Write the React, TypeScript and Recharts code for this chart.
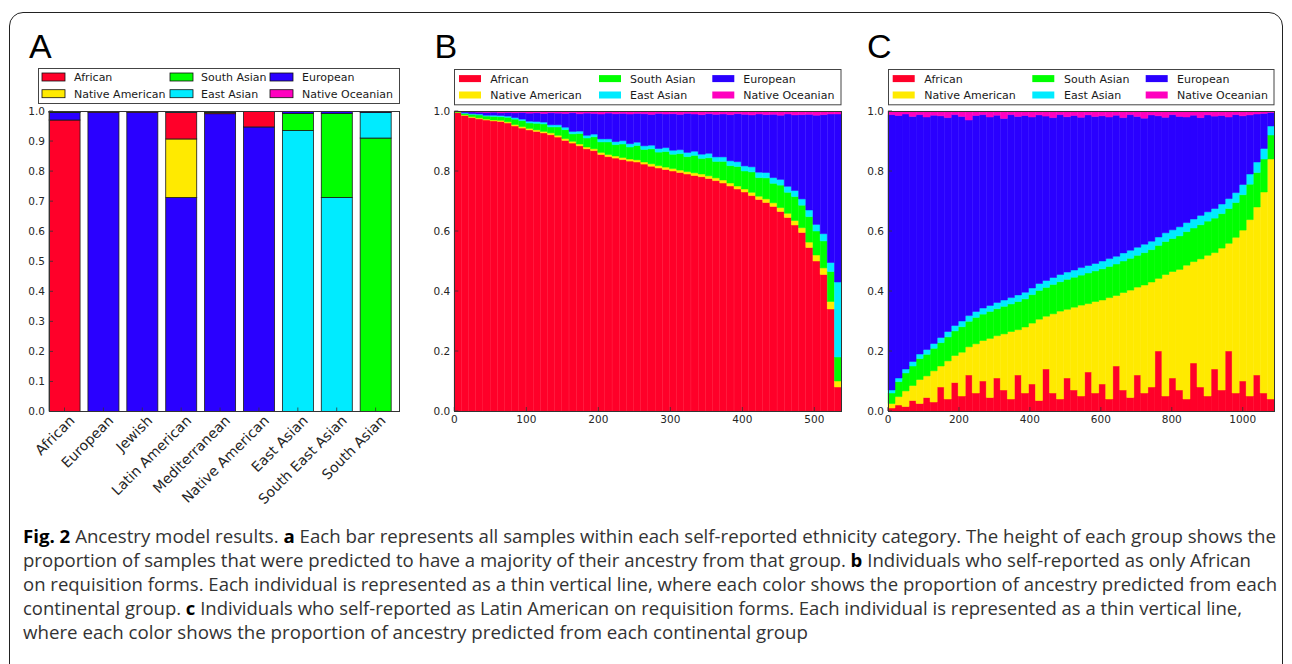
import React from 'react';
import { BarChart, Bar, XAxis, YAxis } from 'recharts';

// ---------- shared ancestry groups ----------
const ANC_NAMES = ['African', 'Native American', 'South Asian', 'East Asian', 'European', 'Native Oceanian'];
const ANC_KEYS = ['afr', 'nam', 'sas', 'eas', 'eur', 'oce'];
const ANC_COLORS = ['#ff0029', '#ffea00', '#00ff00', '#00ebff', '#2a00ff', '#ff00bf'];

// ---------- Panel A: self-reported category composition ----------
const aCategories = ['African', 'European', 'Jewish', 'Latin American', 'Mediterranean', 'Native American', 'East Asian', 'South East Asian', 'South Asian'];
const aAfr = [0.970, 0.002, 0.002, 0.088, 0.004, 0.052, 0.000, 0.000, 0.000];
const aNam = [0.001, 0.001, 0.000, 0.195, 0.000, 0.001, 0.000, 0.000, 0.000];
const aSas = [0.002, 0.001, 0.002, 0.002, 0.004, 0.000, 0.057, 0.280, 0.910];
const aEas = [0.001, 0.000, 0.000, 0.003, 0.001, 0.000, 0.935, 0.712, 0.085];
const aEur = [0.025, 0.996, 0.996, 0.712, 0.991, 0.947, 0.008, 0.008, 0.005];
const aOce = [0.001, 0.000, 0.000, 0.000, 0.000, 0.000, 0.000, 0.000, 0.000];
const aTicksY = [0, 0.1, 0.2, 0.3, 0.4, 0.5, 0.6, 0.7, 0.8, 0.9, 1.0];

// ---------- Panel B: self-reported African individuals (groups of ~10) ----------
const bStart = [0, 10, 20, 30, 40, 50, 60, 70, 80, 90, 100, 110, 120, 130, 140, 150, 160, 170, 180, 190,
  200, 210, 220, 230, 240, 250, 260, 270, 280, 290, 300, 310, 320, 330, 340, 350, 360, 370, 380, 390,
  400, 410, 420, 430, 440, 450, 460, 470, 480, 490, 500, 510, 520, 530];
const bAfr = [0.995, 0.985, 0.978, 0.974, 0.970, 0.967, 0.965, 0.960, 0.950, 0.943,
  0.937, 0.932, 0.927, 0.921, 0.913, 0.902, 0.893, 0.884, 0.874, 0.868,
  0.855, 0.848, 0.843, 0.838, 0.833, 0.830, 0.823, 0.816, 0.810, 0.805,
  0.800, 0.795, 0.790, 0.785, 0.781, 0.775, 0.768, 0.760, 0.750, 0.740,
  0.730, 0.718, 0.705, 0.695, 0.682, 0.665, 0.645, 0.620, 0.595, 0.545,
  0.500, 0.455, 0.340, 0.080];
const bNam = [0.001, 0.002, 0.003, 0.003, 0.003, 0.003, 0.004, 0.004, 0.005, 0.005,
  0.005, 0.005, 0.005, 0.006, 0.006, 0.006, 0.006, 0.006, 0.006, 0.006,
  0.007, 0.007, 0.007, 0.007, 0.007, 0.007, 0.007, 0.008, 0.008, 0.008,
  0.008, 0.008, 0.008, 0.009, 0.009, 0.009, 0.009, 0.010, 0.010, 0.010,
  0.010, 0.011, 0.011, 0.012, 0.012, 0.013, 0.014, 0.015, 0.016, 0.018,
  0.020, 0.022, 0.025, 0.020];
const bSas = [0.002, 0.005, 0.008, 0.010, 0.010, 0.012, 0.012, 0.015, 0.018, 0.020,
  0.018, 0.022, 0.025, 0.020, 0.028, 0.030, 0.025, 0.035, 0.030, 0.040,
  0.035, 0.042, 0.038, 0.045, 0.040, 0.048, 0.042, 0.050, 0.045, 0.052,
  0.048, 0.055, 0.050, 0.058, 0.052, 0.060, 0.055, 0.062, 0.058, 0.065,
  0.060, 0.068, 0.062, 0.070, 0.065, 0.075, 0.070, 0.080, 0.075, 0.085,
  0.080, 0.090, 0.100, 0.080];
const bEas = [0.001, 0.002, 0.002, 0.003, 0.003, 0.004, 0.004, 0.004, 0.005, 0.005,
  0.006, 0.006, 0.006, 0.007, 0.007, 0.008, 0.008, 0.008, 0.009, 0.009,
  0.010, 0.010, 0.010, 0.011, 0.011, 0.011, 0.012, 0.012, 0.012, 0.013,
  0.013, 0.013, 0.014, 0.014, 0.014, 0.015, 0.015, 0.015, 0.016, 0.016,
  0.017, 0.017, 0.018, 0.018, 0.019, 0.019, 0.020, 0.020, 0.021, 0.022,
  0.022, 0.024, 0.030, 0.250];
const bEur = [0.001, 0.004, 0.006, 0.006, 0.009, 0.010, 0.009, 0.012, 0.016, 0.022,
  0.027, 0.029, 0.029, 0.040, 0.039, 0.046, 0.062, 0.058, 0.074, 0.069,
  0.083, 0.086, 0.093, 0.091, 0.099, 0.096, 0.107, 0.103, 0.117, 0.112,
  0.122, 0.118, 0.130, 0.124, 0.132, 0.132, 0.142, 0.143, 0.154, 0.160,
  0.172, 0.173, 0.194, 0.193, 0.211, 0.214, 0.241, 0.252, 0.281, 0.319,
  0.364, 0.397, 0.495, 0.560];
const bOce = [0.000, 0.002, 0.003, 0.004, 0.005, 0.004, 0.006, 0.005, 0.006, 0.005,
  0.007, 0.006, 0.008, 0.006, 0.007, 0.008, 0.006, 0.009, 0.007, 0.008,
  0.010, 0.007, 0.009, 0.008, 0.010, 0.008, 0.009, 0.011, 0.008, 0.010,
  0.009, 0.011, 0.008, 0.010, 0.012, 0.009, 0.011, 0.010, 0.012, 0.009,
  0.011, 0.013, 0.010, 0.012, 0.011, 0.014, 0.010, 0.013, 0.012, 0.011,
  0.014, 0.012, 0.010, 0.010];
const bTicksX = [0, 100, 200, 300, 400, 500];
const bMaxX = 538;

// ---------- Panel C: self-reported Latin American individuals (groups of ~20) ----------
const cStart = [0, 20, 40, 60, 80, 100, 120, 140, 160, 180, 200, 220, 240, 260, 280, 300, 320, 340, 360, 380,
  400, 420, 440, 460, 480, 500, 520, 540, 560, 580, 600, 620, 640, 660, 680, 700, 720, 740, 760, 780,
  800, 820, 840, 860, 880, 900, 920, 940, 960, 980, 1000, 1020, 1040, 1060, 1080];
const cAfr = [0.010, 0.020, 0.015, 0.035, 0.025, 0.045, 0.030, 0.080, 0.040, 0.095,
  0.050, 0.120, 0.060, 0.100, 0.045, 0.110, 0.070, 0.040, 0.120, 0.060,
  0.090, 0.035, 0.140, 0.060, 0.040, 0.110, 0.070, 0.050, 0.130, 0.060,
  0.090, 0.040, 0.150, 0.070, 0.045, 0.120, 0.060, 0.080, 0.200, 0.050,
  0.110, 0.070, 0.040, 0.160, 0.080, 0.050, 0.140, 0.070, 0.200, 0.060,
  0.100, 0.050, 0.120, 0.060, 0.040];
const cNam = [0.015, 0.028, 0.052, 0.050, 0.080, 0.072, 0.104, 0.070, 0.127, 0.090,
  0.146, 0.094, 0.164, 0.135, 0.197, 0.141, 0.187, 0.225, 0.151, 0.220,
  0.203, 0.271, 0.176, 0.264, 0.293, 0.229, 0.276, 0.303, 0.228, 0.305,
  0.280, 0.338, 0.235, 0.325, 0.358, 0.293, 0.360, 0.350, 0.242, 0.405,
  0.355, 0.402, 0.446, 0.338, 0.427, 0.469, 0.388, 0.473, 0.359, 0.519,
  0.503, 0.588, 0.560, 0.670, 0.800];
const cSas = [0.035, 0.050, 0.060, 0.065, 0.070, 0.072, 0.075, 0.078, 0.080, 0.082,
  0.085, 0.085, 0.088, 0.088, 0.090, 0.090, 0.092, 0.092, 0.094, 0.094,
  0.095, 0.096, 0.096, 0.098, 0.098, 0.100, 0.100, 0.100, 0.102, 0.102,
  0.104, 0.104, 0.105, 0.105, 0.106, 0.106, 0.108, 0.108, 0.110, 0.110,
  0.110, 0.112, 0.112, 0.112, 0.114, 0.114, 0.115, 0.115, 0.116, 0.116,
  0.118, 0.118, 0.115, 0.110, 0.080];
const cEas = [0.010, 0.012, 0.013, 0.015, 0.015, 0.016, 0.016, 0.017, 0.018, 0.018,
  0.019, 0.019, 0.020, 0.020, 0.020, 0.021, 0.021, 0.021, 0.022, 0.022,
  0.022, 0.023, 0.023, 0.023, 0.024, 0.024, 0.024, 0.025, 0.025, 0.025,
  0.026, 0.026, 0.026, 0.027, 0.027, 0.027, 0.028, 0.028, 0.028, 0.029,
  0.029, 0.030, 0.030, 0.030, 0.031, 0.031, 0.032, 0.032, 0.033, 0.033,
  0.034, 0.034, 0.035, 0.035, 0.030];
const cEur = [0.918, 0.875, 0.850, 0.817, 0.798, 0.775, 0.761, 0.739, 0.713, 0.703,
  0.682, 0.652, 0.653, 0.645, 0.628, 0.624, 0.605, 0.610, 0.595, 0.589,
  0.570, 0.562, 0.548, 0.533, 0.533, 0.518, 0.515, 0.501, 0.502, 0.490,
  0.484, 0.472, 0.470, 0.451, 0.452, 0.436, 0.420, 0.421, 0.404, 0.385,
  0.384, 0.368, 0.352, 0.346, 0.326, 0.323, 0.308, 0.295, 0.272, 0.260,
  0.229, 0.197, 0.160, 0.117, 0.045];
const cOce = [0.012, 0.015, 0.010, 0.018, 0.012, 0.020, 0.014, 0.016, 0.022, 0.012,
  0.018, 0.030, 0.015, 0.012, 0.020, 0.014, 0.025, 0.012, 0.018, 0.015,
  0.020, 0.013, 0.017, 0.022, 0.012, 0.019, 0.015, 0.021, 0.013, 0.018,
  0.016, 0.020, 0.014, 0.022, 0.012, 0.018, 0.024, 0.013, 0.016, 0.021,
  0.012, 0.018, 0.020, 0.014, 0.022, 0.013, 0.017, 0.015, 0.020, 0.012,
  0.016, 0.013, 0.010, 0.008, 0.005];
const cTicksX = [0, 200, 400, 600, 800, 1000];
const cMaxX = 1089;
const bcTicksY = [0, 0.2, 0.4, 0.6, 0.8, 1.0];

// ---------- caption ----------
const captionLines = [
  [['b', 'Fig. 2'], ['n', ' Ancestry model results. '], ['b', 'a'], ['n', ' Each bar represents all samples within each self-reported ethnicity category. The height of each group shows the']],
  [['n', 'proportion of samples that were predicted to have a majority of their ancestry from that group. '], ['b', 'b'], ['n', ' Individuals who self-reported as only African']],
  [['n', 'on requisition forms. Each individual is represented as a thin vertical line, where each color shows the proportion of ancestry predicted from each']],
  [['n', 'continental group. '], ['b', 'c'], ['n', ' Individuals who self-reported as Latin American on requisition forms. Each individual is represented as a thin vertical line,']],
  [['n', 'where each color shows the proportion of ancestry predicted from each continental group']],
];
const captionEnds = [1276, 1251, 1277, 1242, 808];

// ---------- table building ----------
const aSeries = [aAfr, aNam, aSas, aEas, aEur, aOce];
const aRows = aCategories.map((name, i) => {
  const segs = aSeries
    .map((s, k) => ({ v: s[i], c: ANC_COLORS[k] }))
    .filter((s) => s.v > 0)
    .sort((p, q) => q.v - p.v);
  const row: any = { name };
  segs.forEach((s, j) => {
    row['v' + j] = s.v;
    row['c' + j] = s.c;
  });
  return row;
});
const bSeries = [bAfr, bNam, bSas, bEas, bEur, bOce];
const bRows = bStart.map((start, i) => {
  const row: any = { start };
  ANC_KEYS.forEach((k, j) => (row[k] = bSeries[j][i]));
  return row;
});
const cSeries = [cAfr, cNam, cSas, cEas, cEur, cOce];
const cRows = cStart.map((start, i) => {
  const row: any = { start };
  ANC_KEYS.forEach((k, j) => (row[k] = cSeries[j][i]));
  return row;
});

// ---------- styling ----------
const FONT = '"DejaVu Sans", Verdana, sans-serif';
const TICK_TEXT = '#262626';
const SPINE = '#333';
const A_SHIFT = 3.94; // matplotlib edge-aligned bars

function YTickLeft(props: any) {
  const { x, y, payload } = props;
  return (
    <g>
      <line x1={x} x2={x + 4} y1={y} y2={y} stroke={SPINE} strokeWidth={0.8} />
      <text x={x - 4} y={y} dy="0.36em" textAnchor="end" fontSize={10.5} fontFamily={FONT} fill={TICK_TEXT}>
        {Number(payload.value).toFixed(1)}
      </text>
    </g>
  );
}
function YTickRight(props: any) {
  const { x, y } = props;
  return <line x1={x - 4} x2={x} y1={y} y2={y} stroke={SPINE} strokeWidth={0.8} />;
}
function XTickNum(props: any) {
  const { x, y, payload } = props;
  return (
    <g>
      <line x1={x} x2={x} y1={y} y2={y - 4} stroke={SPINE} strokeWidth={0.8} />
      <text x={x} y={y + 12} textAnchor="middle" fontSize={10.5} fontFamily={FONT} fill={TICK_TEXT}>
        {payload.value}
      </text>
    </g>
  );
}
function ACatTick(props: any) {
  const { x, y, payload } = props;
  const cx = x - A_SHIFT;
  return (
    <g>
      <line x1={cx} x2={cx} y1={y} y2={y - 4} stroke={SPINE} strokeWidth={0.8} />
      <text
        transform={`translate(${cx + 11},${y + 10}) rotate(-45)`}
        textAnchor="end"
        fontSize={14}
        fontFamily={FONT}
        fill={TICK_TEXT}
      >
        {payload.value}
      </text>
    </g>
  );
}
const aShape = (j: number) => (props: any) => {
  const { x, y, width, height, payload } = props;
  if (height == null || Math.abs(height) < 0.001 || !payload || payload['v' + j] == null) return <g />;
  const h = Math.abs(height);
  const top = height < 0 ? y + height : y;
  return (
    <rect x={x - A_SHIFT} y={top} width={width} height={h} fill={payload['c' + j]} stroke="#1a1a1a" strokeWidth={0.8} />
  );
};

function Frame({ left, top, width, height }: any) {
  return (
    <div
      style={{
        position: 'absolute',
        left: left - 0.5,
        top: top - 0.5,
        width: width + 1,
        height: height + 1,
        border: `1px solid ${SPINE}`,
        boxSizing: 'border-box',
        pointerEvents: 'none',
      }}
    />
  );
}

function LegendBox({ left, top, width, height, swX, txtX, rowY, swW, swH, swStroke }: any) {
  return (
    <svg style={{ position: 'absolute', left, top, overflow: 'visible' }} width={width} height={height}>
      <rect x={0.5} y={0.5} width={width - 1} height={height - 1} fill="#fff" stroke="#444" strokeWidth={1} />
      {ANC_NAMES.map((name, i) => {
        const col = Math.floor(i / 2);
        const row = i % 2;
        return (
          <g key={name}>
            <rect
              x={swX[col]}
              y={rowY[row] - swH / 2}
              width={swW}
              height={swH}
              fill={ANC_COLORS[i]}
              stroke={swStroke ? '#111' : 'none'}
              strokeWidth={0.8}
            />
            <text x={txtX[col]} y={rowY[row]} dy="0.36em" fontSize={11} fontFamily={FONT} fill="#1a1a1a">
              {name}
            </text>
          </g>
        );
      })}
    </svg>
  );
}

function StackedPanel({ left, width, rows, maxX, ticksX, marginLeft, marginRight }: any) {
  return (
    <div style={{ position: 'absolute', left, top: 0 }}>
      <BarChart
        width={width}
        height={450}
        data={rows}
        margin={{ top: 111, right: marginRight, left: marginLeft, bottom: 14 }}
        barCategoryGap={0}
        barGap={0}
      >
        <XAxis xAxisId="cat" dataKey="start" type="category" hide height={0} />
        <XAxis
          xAxisId="num"
          dataKey="start"
          type="number"
          domain={[0, maxX]}
          ticks={ticksX}
          allowDataOverflow
          height={25}
          tick={(p: any) => <XTickNum {...p} />}
          tickLine={false}
          axisLine={false}
          tickSize={0}
          tickMargin={0}
        />
        <YAxis
          type="number"
          domain={[0, 1]}
          ticks={bcTicksY}
          allowDataOverflow
          width={30}
          tick={(p: any) => <YTickLeft {...p} />}
          tickLine={false}
          axisLine={false}
          tickSize={0}
          tickMargin={0}
        />
        <YAxis
          yAxisId="r"
          orientation="right"
          type="number"
          domain={[0, 1]}
          ticks={bcTicksY}
          width={0}
          tick={(p: any) => <YTickRight {...p} />}
          tickLine={false}
          axisLine={false}
          tickSize={0}
          tickMargin={0}
        />
        {ANC_KEYS.map((k, j) => (
          <Bar
            key={k}
            xAxisId="cat"
            dataKey={k}
            stackId="s"
            fill={ANC_COLORS[j]}
            stroke={ANC_COLORS[j]}
            strokeWidth={0.5}
            isAnimationActive={false}
          />
        ))}
      </BarChart>
    </div>
  );
}

export default function App() {
  return (
    <div
      style={{
        position: 'absolute',
        left: 0,
        top: 0,
        width: 1292,
        height: 664,
        background: '#fff',
        overflow: 'hidden',
      }}
    >
      {/* figure border */}
      <div
        style={{
          position: 'absolute',
          left: 9,
          top: 12,
          width: 1274,
          height: 720,
          border: '1.5px solid #222',
          borderRadius: 14,
          boxSizing: 'border-box',
        }}
      />

      {/* Panel A */}
      <div style={{ position: 'absolute', left: 0, top: 0 }}>
        <BarChart
          width={420}
          height={520}
          data={aRows}
          margin={{ top: 111, right: 21, left: 9, bottom: 8.5 }}
          barSize={31}
        >
          <XAxis
            dataKey="name"
            type="category"
            height={100}
            interval={0}
            tick={(p: any) => <ACatTick {...p} />}
            tickLine={false}
            axisLine={false}
            tickSize={0}
            tickMargin={0}
          />
          <YAxis
            type="number"
            domain={[0, 1]}
            ticks={aTicksY}
            allowDataOverflow
            width={40}
            tick={(p: any) => <YTickLeft {...p} />}
            tickLine={false}
            axisLine={false}
            tickSize={0}
            tickMargin={0}
          />
          <YAxis
            yAxisId="r"
            orientation="right"
            type="number"
            domain={[0, 1]}
            ticks={aTicksY}
            width={0}
            tick={(p: any) => <YTickRight {...p} />}
            tickLine={false}
            axisLine={false}
            tickSize={0}
            tickMargin={0}
          />
          {[0, 1, 2, 3, 4, 5].map((j) => (
            <Bar key={j} dataKey={'v' + j} stackId="a" shape={aShape(j)} isAnimationActive={false} />
          ))}
        </BarChart>
      </div>
      <Frame left={49} top={111} width={350} height={300.5} />

      {/* Panel B */}
      <StackedPanel left={420} width={440} rows={bRows} maxX={bMaxX} ticksX={bTicksX} marginLeft={4.3} marginRight={18.3} />
      <Frame left={454.3} top={111} width={387.4} height={300} />

      {/* Panel C */}
      <StackedPanel left={855} width={437} rows={cRows} maxX={cMaxX} ticksX={cTicksX} marginLeft={3} marginRight={17.7} />
      <Frame left={888} top={111} width={386.3} height={300} />

      {/* Legends */}
      <LegendBox left={38} top={68} width={362} height={36} swX={[4, 132, 232]} txtX={[36, 163, 264]} rowY={[9, 25.7]} swW={23} swH={8} swStroke />
      <LegendBox left={454} top={68.7} width={387.5} height={36.3} swX={[5, 145, 258.3]} txtX={[36.3, 176, 289.3]} rowY={[9.6, 26]} swW={22} swH={7} swStroke={false} />
      <LegendBox left={888} top={68.7} width={386.5} height={36.3} swX={[4.7, 144.3, 257.7]} txtX={[36.3, 176, 289]} rowY={[9.6, 26]} swW={22} swH={7} swStroke={false} />

      {/* Panel letters and caption */}
      <svg style={{ position: 'absolute', left: 0, top: 0, pointerEvents: 'none' }} width={1292} height={664}>
        <text x={29} y={58} fontSize={34} fontFamily='"Liberation Sans", Arial, sans-serif' fill="#000">A</text>
        <text x={434.5} y={58} fontSize={34} fontFamily='"Liberation Sans", Arial, sans-serif' fill="#000">B</text>
        <text x={867} y={58} fontSize={34} fontFamily='"Liberation Sans", Arial, sans-serif' fill="#000">C</text>
        {captionLines.map((parts, li) => {
          const x0 = 23;
          return (
            <text
              key={li}
              x={x0}
              y={543 + li * 24}
              fontSize={18}
              fontFamily='"Open Sans", "Noto Sans", sans-serif'
              fill="#333"
              textLength={captionEnds[li] - x0}
              lengthAdjust="spacingAndGlyphs"
            >
              {parts.map((p, pi) => (
                <tspan key={pi} fontWeight={p[0] === 'b' ? 700 : 400} fill={p[0] === 'b' ? '#000' : '#333'}>
                  {p[1]}
                </tspan>
              ))}
            </text>
          );
        })}
      </svg>
    </div>
  );
}
